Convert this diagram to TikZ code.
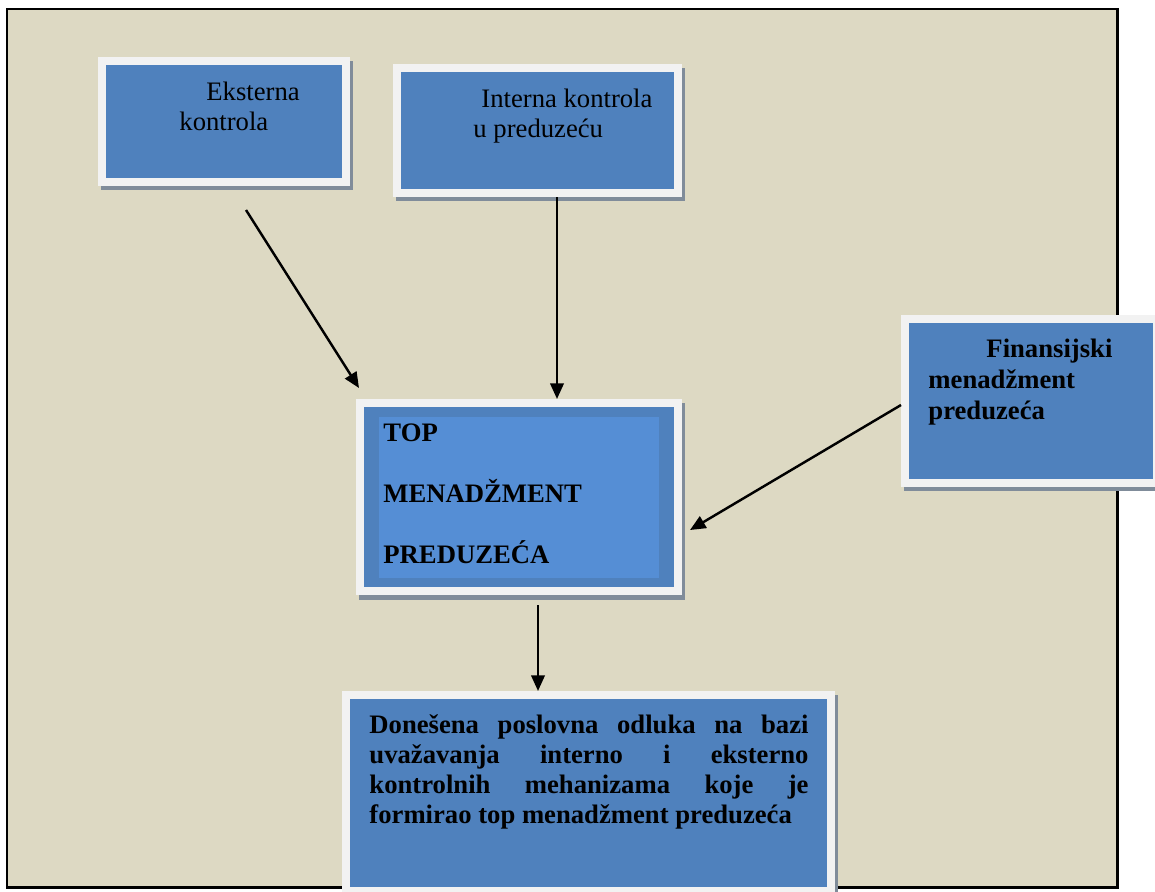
\documentclass[tikz,border=0pt]{standalone}
\usepackage{fontspec}
\setmainfont{Liberation Serif}
\usepackage{xcolor}
\usetikzlibrary{arrows.meta}

\definecolor{pozadina}{RGB}{221,217,195}
\definecolor{plava}{RGB}{79,129,189}
\definecolor{svijetloplava}{RGB}{85,142,213}
\definecolor{okvir}{RGB}{242,242,242}
\definecolor{sjena}{RGB}{128,140,154}

\tikzset{
  kutija/.style={rectangle, fill=plava, draw=okvir, line width=3.6pt, inner sep=0pt},
  tekst/.style={anchor=north west, inner sep=0pt, align=left, font={\fontsize{12}{13.5}\selectfont}},
  strelica/.style={line width=1.1pt, -{Triangle[length=7pt,width=6pt]}},
}

\begin{document}
\begin{tikzpicture}[x=0.45pt,y=0.45pt,yscale=-1]
  \useasboundingbox (0,0) rectangle (1155,891);

  %Shape: Rectangle [frame]
  \draw [line width=1.2pt, fill=pozadina] (7,9) rectangle (1117.5,887.5);

  %Shadows
  \fill [sjena] (101,61) rectangle (353,190);
  \fill [sjena] (396,68) rectangle (685,201);
  \fill [sjena] (359,403) rectangle (685,600);
  \fill [sjena] (904,319) rectangle (1164,491);
  \fill [sjena] (345,695) rectangle (838,899);

  %Boxes
  \node [kutija, minimum width=109.8pt, minimum height=54.45pt] (eks) at (224,121.5) {};
  \node [kutija, minimum width=126.45pt, minimum height=56.25pt] (int) at (537.5,130.5) {};
  \node [kutija, minimum width=143.1pt, minimum height=84.6pt] (top) at (519,497) {};
  \node [rectangle, fill=svijetloplava, inner sep=0pt, minimum width=126pt, minimum height=72.45pt] (topin) at (519,497.5) {};
  \node [kutija, minimum width=113.4pt, minimum height=73.8pt] (fin) at (1031,401) {};
  \node [kutija, minimum width=218.25pt, minimum height=88.2pt] (odl) at (588.5,793) {};

  % Text Node
  \node [tekst] (teks) at (179,81.8) {\hspace*{12.15pt}Eksterna\\kontrola};
  % Text Node
  \node [tekst] (tint) at (473,88.8) {\hspace*{3.6pt}Interna kontrola\\u preduzeću};
  % Text Node
  \node [tekst, font={\fontsize{12}{27.5}\selectfont\bfseries}] (ttop) at (383,423.6) {TOP\\MENADŽMENT\\PREDUZEĆA};
  % Text Node
  \node [tekst, font={\fontsize{12}{14}\selectfont\bfseries}] (tfin) at (928,338.6) {\hspace*{26.1pt}Finansijski\\menadžment\\preduzeća};
  % Text Node
  \node [tekst, text width=197.6pt, align=justify, font={\fontsize{12}{13.5}\selectfont\bfseries}] (todl) at (369,714.5)
    {\hyphenpenalty=10000 Donešena poslovna odluka na bazi\linebreak uvažavanja interno i eksterno\linebreak kontrolnih mehanizama koje je\linebreak formirao top menadžment preduzeća};

  %Arrows
  \coordinate (p1) at (246,210);
  \coordinate (k1) at (359,388);
  \coordinate (x2) at (557,0);
  \coordinate (p3) at (900,405);
  \coordinate (k3) at (690,530);
  \coordinate (p4) at (538,605);

  \draw [strelica] (p1) -- (k1);
  \draw [strelica] (int.south -| x2) -- (top.north -| x2);
  \draw [strelica] (fin.west |- p3) -- (k3);
  \draw [strelica] (p4) -- (odl.north -| p4);

\end{tikzpicture}
\end{document}
